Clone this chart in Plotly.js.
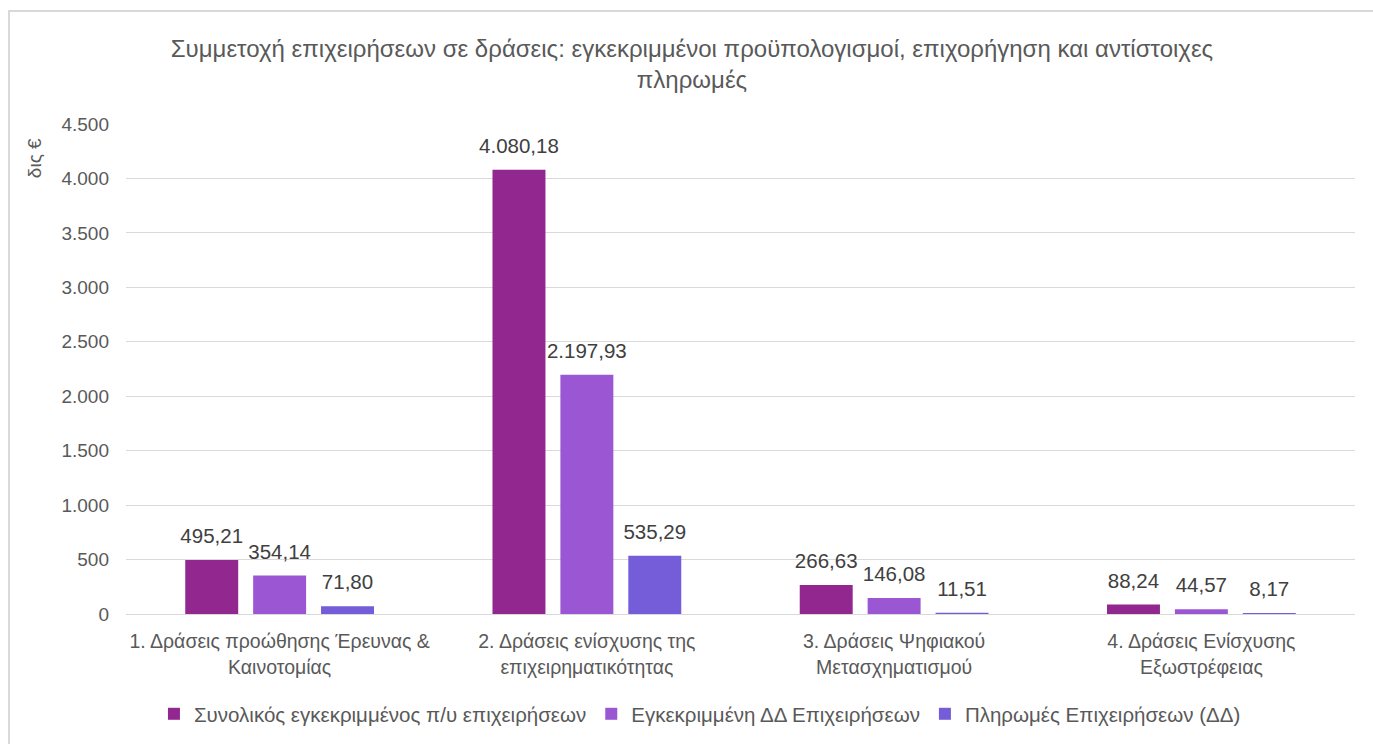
<!DOCTYPE html>
<html>
<head>
<meta charset="utf-8">
<script src="https://cdn.plot.ly/plotly-3.0.1.min.js"></script>
<style>
html,body{margin:0;padding:0;background:#fff;}
#wrap{position:relative;width:1373px;height:744px;}
#chart{position:absolute;left:0;top:0;width:1373px;height:744px;}
#frame{position:absolute;left:8px;top:10px;width:1370px;height:740px;border:2px solid #d9d9d9;box-sizing:border-box;pointer-events:none;}
</style>
</head>
<body>
<div id="wrap"><div id="chart"></div><div id="frame"></div></div>
<script>
const categories = [
  "1. Δράσεις προώθησης Έρευνας &<br>Καινοτομίας",
  "2. Δράσεις ενίσχυσης της<br>επιχειρηματικότητας",
  "3. Δράσεις Ψηφιακού<br>Μετασχηματισμού",
  "4. Δράσεις Ενίσχυσης<br>Εξωστρέφειας"
];
const seriesNames = [
  "Συνολικός εγκεκριμμένος π/υ επιχειρήσεων",
  "Εγκεκριμμένη ΔΔ Επιχειρήσεων",
  "Πληρωμές Επιχειρήσεων (ΔΔ)"
];
const totalBudget = [495.21, 4080.18, 266.63, 88.24];
const approvedPE = [354.14, 2197.93, 146.08, 44.57];
const payments = [71.80, 535.29, 11.51, 8.17];
const tickValues = [0, 500, 1000, 1500, 2000, 2500, 3000, 3500, 4000, 4500];

const colors = ["#92278F", "#9B57D3", "#755DD9"];
const FONT = '"Liberation Sans", Arial, sans-serif';
const seriesValues = [totalBudget, approvedPE, payments];
const GAP = 0.337;

const barTraces = seriesValues.map((vals, i) => ({
  type: 'bar',
  name: seriesNames[i],
  x: categories,
  y: vals,
  marker: {color: colors[i]},
  hoverinfo: 'skip'
}));

const labelTraces = seriesValues.map((vals, i) => ({
  type: 'scatter',
  mode: 'markers+text',
  x: categories,
  y: vals,
  texttemplate: '%{y:,.2f}',
  textposition: 'top center',
  cliponaxis: false,
  textfont: {family: FONT, size: 20.5, color: '#404040'},
  marker: {size: 17, opacity: 0},
  showlegend: false,
  hoverinfo: 'skip'
}));

const layout = {
  width: 1373,
  height: 744,
  separators: ',.',
  paper_bgcolor: 'rgba(0,0,0,0)',
  plot_bgcolor: '#fff',
  margin: {l: 126, r: 18, t: 124, b: 130, autoexpand: false},
  font: {family: FONT, color: '#595959'},
  title: {
    text: 'Συμμετοχή επιχειρήσεων σε δράσεις: εγκεκριμμένοι προϋπολογισμοί, επιχορήγηση και αντίστοιχες<br>πληρωμές',
    font: {family: FONT, size: 24, color: '#595959'},
    x: 0.504, xanchor: 'center',
    y: 0.924, yanchor: 'middle'
  },
  barmode: 'group',
  bargap: GAP,
  bargroupgap: 0.22,
  scattermode: 'group',
  scattergap: GAP,
  xaxis: {
    type: 'category',
    automargin: false,
    tickfont: {family: FONT, size: 19.5, color: '#595959'},
    showline: true, linecolor: '#d9d9d9', linewidth: 1,
    ticks: '', showgrid: false, zeroline: false,
    ticklabelstandoff: 10
  },
  yaxis: {
    range: [0, 4500],
    automargin: false,
    tickvals: tickValues,
    tickformat: ',.0f',
    tickfont: {family: FONT, size: 19, color: '#595959'},
    showgrid: true, gridcolor: '#d9d9d9', gridwidth: 1,
    zeroline: false, showline: false, ticks: '', ticklen: 0,
    ticklabelstandoff: 16
  },
  showlegend: true,
  legend: {
    orientation: 'h',
    x: 0.467, xanchor: 'center',
    y: -0.204, yanchor: 'middle',
    font: {family: FONT, size: 20.5, color: '#595959'},
    itemwidth: 30,
    traceorder: 'normal'
  },
  annotations: [{
    text: 'δις €',
    textangle: -90,
    xref: 'paper', yref: 'paper',
    x: -0.075, y: 0.93,
    xanchor: 'center', yanchor: 'middle',
    showarrow: false,
    font: {family: FONT, size: 19, color: '#595959'}
  }]
};

Plotly.newPlot('chart', barTraces.concat(labelTraces), layout, {displayModeBar: false, staticPlot: true});
</script>
</body>
</html>
